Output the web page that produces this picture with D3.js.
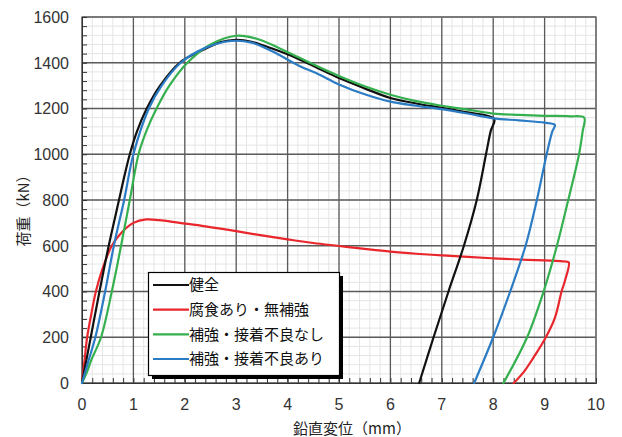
<!DOCTYPE html>
<html><head><meta charset="utf-8">
<script src="https://cdn.jsdelivr.net/npm/d3@7"></script>
<style>
html,body{margin:0;padding:0;background:#fff;}
svg{display:block;}
text{font-family:"Liberation Sans",Arial,sans-serif;}
.cjk{font-family:"Noto Sans CJK JP","Noto Sans",sans-serif;}
</style></head>
<body>
<svg id="c" width="622" height="437"></svg>
<script>
// ---- data (displacement mm, load kN) ----
const seriesNames = ["健全", "腐食あり・無補強", "補強・接着不良なし", "補強・接着不良あり"];
const seriesColors = ["#111111", "#e8262c", "#35b04e", "#2b7cc4"];

const dispSound = [0, 0.17, 0.34, 0.52, 0.72, 0.82, 0.93, 1.07, 1.26, 1.52, 1.9, 2.3, 2.7, 3.0, 3.3, 3.7, 4.2, 4.6, 5.0, 5.5, 6.0, 6.5, 7.0, 7.5, 8.02, 7.95, 7.86, 7.68, 7.43, 7.13, 6.84, 6.56];
const loadSound = [0, 200, 400, 600, 800, 900, 1000, 1100, 1200, 1300, 1400, 1450, 1490, 1500, 1492, 1462, 1418, 1375, 1333, 1288, 1246, 1222, 1203, 1183, 1155, 1100, 1000, 800, 600, 400, 200, 0];

const dispCorr = [0, 0.05, 0.1, 0.18, 0.27, 0.4, 0.58, 0.78, 1.0, 1.25, 1.5, 1.9, 2.4, 3.0, 3.5, 4.0, 4.5, 5.0, 5.5, 6.0, 6.5, 7.0, 7.5, 8.0, 8.5, 9.0, 9.4, 9.47, 9.40, 9.33, 9.2, 9.0, 8.78, 8.6, 8.4];
const loadCorr = [0, 100, 200, 300, 400, 500, 600, 660, 700, 715, 712, 700, 685, 664, 645, 628, 612, 599, 586, 574, 565, 558, 551, 545, 540, 536, 531, 527, 450, 400, 285, 190, 110, 50, 0];

const dispRfGood = [0, 0.1, 0.18, 0.37, 0.58, 0.76, 0.93, 1.1, 1.25, 1.45, 1.7, 2.05, 2.5, 3.0, 3.4, 3.8, 4.2, 4.6, 5.0, 5.5, 6.0, 6.5, 7.0, 7.5, 8.0, 8.5, 9.0, 9.5, 9.77, 9.74, 9.67, 9.46, 9.24, 8.98, 8.66, 8.2];
const loadRfGood = [0, 50, 100, 200, 400, 600, 800, 1000, 1100, 1200, 1300, 1400, 1480, 1518, 1505, 1468, 1425, 1382, 1342, 1297, 1260, 1232, 1212, 1195, 1178, 1172, 1168, 1166, 1160, 1100, 1000, 800, 600, 400, 200, 0];

const dispRfBad = [0, 0.13, 0.26, 0.45, 0.62, 0.82, 1.0, 1.3, 1.55, 1.92, 2.4, 2.9, 3.3, 3.7, 4.24, 4.6, 5.0, 5.5, 6.0, 6.5, 7.0, 7.5, 8.0, 8.5, 9.0, 9.2, 9.15, 9.04, 8.85, 8.63, 8.33, 8.0, 7.63];
const loadRfBad = [0, 100, 200, 400, 600, 800, 1000, 1200, 1300, 1400, 1465, 1495, 1488, 1450, 1385, 1350, 1305, 1262, 1230, 1212, 1197, 1178, 1157, 1148, 1138, 1128, 1100, 1000, 800, 600, 400, 200, 0];

const xTicks = [0, 1, 2, 3, 4, 5, 6, 7, 8, 9, 10];
const yTicks = [0, 200, 400, 600, 800, 1000, 1200, 1400, 1600];
const xLabel = "鉛直変位（mm）";
const yLabel = "荷重（kN）";

// ---- layout ----
const svg = d3.select("#c");
const L = 82, R = 596, T = 17, B = 383;
const x = d3.scaleLinear().domain([0, 10]).range([L, R]);
const y = d3.scaleLinear().domain([0, 1600]).range([B, T]);

// minor grid
const g = svg.append("g");
g.selectAll(".mx").data(d3.range(0, 10.001, 0.2)).join("line")
  .attr("x1", d => x(d)).attr("x2", d => x(d)).attr("y1", T).attr("y2", B)
  .attr("stroke", "#e5e5e5").attr("stroke-width", 1);
g.selectAll(".my").data(d3.range(0, 1600.1, 40)).join("line")
  .attr("y1", d => y(d)).attr("y2", d => y(d)).attr("x1", L).attr("x2", R)
  .attr("stroke", "#e5e5e5").attr("stroke-width", 1);
// major grid
g.selectAll(".Mx").data(xTicks).join("line")
  .attr("x1", d => x(d)).attr("x2", d => x(d)).attr("y1", T).attr("y2", B)
  .attr("stroke", "#5a5a5a").attr("stroke-width", 1.3);
g.selectAll(".My").data(yTicks).join("line")
  .attr("y1", d => y(d)).attr("y2", d => y(d)).attr("x1", L).attr("x2", R)
  .attr("stroke", "#5a5a5a").attr("stroke-width", 1.3);
// border
svg.append("rect").attr("x", L).attr("y", T).attr("width", R - L).attr("height", B - T)
  .attr("fill", "none").attr("stroke", "#777").attr("stroke-width", 1.3);

// axes with inward minor ticks
const xAxis = d3.axisBottom(x).tickValues(d3.range(0, 10.001, 0.2)).tickSize(-5).tickFormat("");
const yAxis = d3.axisLeft(y).tickValues(d3.range(0, 1600.1, 40)).tickSize(-5).tickFormat("");
svg.append("g").attr("transform", `translate(0,${B})`).call(xAxis)
  .call(s => s.select(".domain").attr("stroke", "#333"))
  .call(s => s.selectAll(".tick line").attr("stroke", "#333"));
svg.append("g").attr("transform", `translate(${L},0)`).call(yAxis)
  .call(s => s.select(".domain").attr("stroke", "#333"))
  .call(s => s.selectAll(".tick line").attr("stroke", "#333"));

// tick labels
svg.append("g").selectAll("text").data(xTicks).join("text")
  .attr("x", d => x(d)).attr("y", 410).attr("text-anchor", "middle")
  .attr("font-size", 16).attr("fill", "#333").text(d => d);
svg.append("g").selectAll("text").data(yTicks).join("text")
  .attr("x", 69).attr("y", d => y(d)).attr("dy", "0.36em").attr("text-anchor", "end")
  .attr("font-size", 16).attr("fill", "#333").text(d => d);

// axis titles
svg.append("text").attr("class", "cjk").attr("x", 352).attr("y", 434).attr("text-anchor", "middle")
  .attr("font-size", 15).attr("fill", "#222").text(xLabel);
svg.append("text").attr("class", "cjk").attr("transform", "translate(29,207) rotate(-90)")
  .attr("text-anchor", "middle").attr("font-size", 15).attr("fill", "#222").text(yLabel);

// curves
const series = [
  [dispSound, loadSound], [dispCorr, loadCorr], [dispRfGood, loadRfGood], [dispRfBad, loadRfBad]
];
const line = d3.line().x(d => x(d[0])).y(d => y(d[1])).curve(d3.curveCatmullRom.alpha(0.5));
const drawOrder = [1, 0, 2, 3];
drawOrder.forEach(i => {
  const [dx, dy] = series[i];
  const pts = dx.map((v, k) => [v, dy[k]]);
  svg.append("path").datum(pts).attr("d", line)
    .attr("fill", "none").attr("stroke", seriesColors[i]).attr("stroke-width", 2.2)
    .attr("stroke-linejoin", "round").attr("stroke-linecap", "round");
});

// legend
const lg = svg.append("g");
lg.append("rect").attr("x", 152).attr("y", 276).attr("width", 191).attr("height", 103).attr("fill", "#000");
lg.append("rect").attr("x", 148.5).attr("y", 272.5).attr("width", 191).attr("height", 103)
  .attr("fill", "#fff").attr("stroke", "#000").attr("stroke-width", 1.2);
const rowY = [285, 309.7, 334.4, 359];
seriesNames.forEach((n, i) => {
  lg.append("line").attr("x1", 153).attr("x2", 189).attr("y1", rowY[i]).attr("y2", rowY[i])
    .attr("stroke", seriesColors[i]).attr("stroke-width", 2.2);
  lg.append("text").attr("class", "cjk").attr("x", 189).attr("y", rowY[i]).attr("dy", "0.36em")
    .attr("font-size", 15).attr("fill", "#111").text(n);
});
</script>
</body></html>
